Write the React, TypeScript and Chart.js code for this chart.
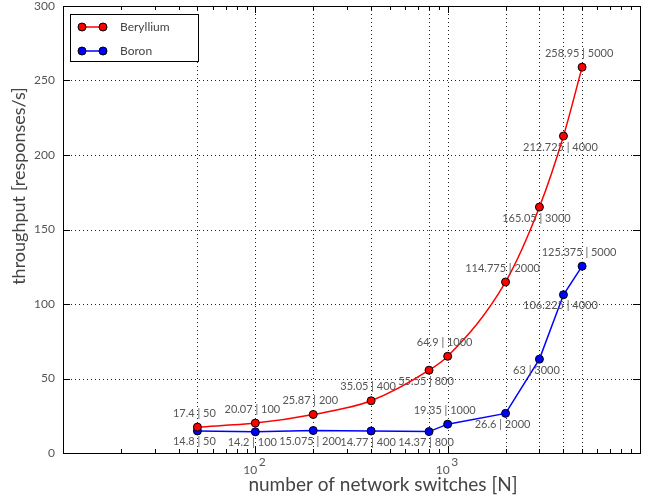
import React, { useEffect, useRef } from "react";
import { Chart, registerables } from "chart.js";

Chart.register(...registerables);

const xValues = [50, 100, 200, 400, 800, 1000, 2000, 3000, 4000, 5000];
const berylliumValues = [17.4, 20.07, 25.87, 35.05, 55.55, 64.9, 114.775, 165.05, 212.725, 258.95];
const boronValues = [14.8, 14.2, 15.075, 14.77, 14.37, 19.35, 26.6, 63, 106.225, 125.375];
const berylliumLabelSide = ["above", "above", "above", "above", "below", "above", "above", "below", "below", "above"];
const boronLabelSide = ["below", "below", "below", "below", "below", "above", "below", "below", "below", "above"];
const yTicks = [0, 50, 100, 150, 200, 250, 300];
const xMajorTicks = [100, 1000];
const xMajorExponents = ["2", "3"];
const seriesNames = ["Beryllium", "Boron"];
const seriesColors = ["#ff0000", "#0000ff"];

const FONT = "Lato, 'Open Sans', sans-serif";

const overlay = {
  id: "overlay",
  beforeDatasetsDraw(chart: any) {
    const { ctx, chartArea: a, scales } = chart;
    const xs = scales.x, ys = scales.y;
    ctx.save();
    ctx.strokeStyle = "#222";
    ctx.lineWidth = 1;
    ctx.setLineDash([1, 3]);
    xValues.forEach((v) => {
      const px = Math.round(xs.getPixelForValue(v)) + 0.5;
      ctx.beginPath();
      ctx.moveTo(px, a.top);
      ctx.lineTo(px, a.bottom);
      ctx.stroke();
    });
    yTicks.forEach((v) => {
      if (v === 0 || v === 300) return;
      const py = Math.round(ys.getPixelForValue(v)) + 0.5;
      ctx.beginPath();
      ctx.moveTo(a.left, py);
      ctx.lineTo(a.right, py);
      ctx.stroke();
    });
    ctx.restore();
  },
  afterDatasetsDraw(chart: any) {
    const { ctx, chartArea: a, scales } = chart;
    const xs = scales.x, ys = scales.y;
    ctx.save();
    // frame
    ctx.strokeStyle = "#000";
    ctx.lineWidth = 1;
    ctx.strokeRect(Math.round(a.left) + 0.5, Math.round(a.top) + 0.5, Math.round(a.right - a.left), Math.round(a.bottom - a.top));
    // x ticks
    for (let d = 10; d < 10000; d *= 10) {
      for (let m = 1; m < 10; m++) {
        const v = d * m;
        if (v <= 10) continue;
        const px = Math.round(xs.getPixelForValue(v)) + 0.5;
        const len = m === 1 ? 7 : 4;
        ctx.beginPath();
        ctx.moveTo(px, a.bottom);
        ctx.lineTo(px, a.bottom - len);
        ctx.moveTo(px, a.top);
        ctx.lineTo(px, a.top + len);
        ctx.stroke();
      }
    }
    // y ticks
    yTicks.forEach((v) => {
      const py = Math.round(ys.getPixelForValue(v)) + 0.5;
      ctx.beginPath();
      ctx.moveTo(a.left, py);
      ctx.lineTo(a.left + 7, py);
      ctx.moveTo(a.right, py);
      ctx.lineTo(a.right - 7, py);
      ctx.stroke();
    });
    // y tick labels
    ctx.fillStyle = "#555";
    ctx.font = `12px ${FONT}`;
    ctx.textAlign = "right";
    ctx.textBaseline = "middle";
    yTicks.forEach((v) => {
      ctx.fillText(String(v), a.left - 8, ys.getPixelForValue(v));
    });
    // x tick labels
    xMajorTicks.forEach((v, i) => {
      const px = xs.getPixelForValue(v);
      ctx.textAlign = "center";
      ctx.font = `12px ${FONT}`;
      ctx.fillText("10", px - 5, a.bottom + 17);
      ctx.fillText(xMajorExponents[i], px + 7, a.bottom + 9);
    });
    // axis titles
    ctx.fillStyle = "#444";
    ctx.font = `19px ${FONT}`;
    ctx.textAlign = "center";
    ctx.textBaseline = "middle";
    ctx.fillText("number of network switches [N]", 383, a.bottom + 32);
    ctx.save();
    ctx.font = `18px ${FONT}`;
    ctx.translate(19, 186);
    ctx.rotate(-Math.PI / 2);
    ctx.fillText("throughput [responses/s]", 0, 0);
    ctx.restore();
    // data labels
    ctx.fillStyle = "#555";
    ctx.font = `11px ${FONT}`;
    const sides = [berylliumLabelSide, boronLabelSide];
    const vals = [berylliumValues, boronValues];
    vals.forEach((arr, si) => {
      arr.forEach((y, i) => {
        const px = xs.getPixelForValue(xValues[i]);
        const py = ys.getPixelForValue(y);
        const above = sides[si][i] === "above";
        ctx.textAlign = "center";
        ctx.textBaseline = "middle";
        ctx.fillText(`${y} | ${xValues[i]}`, px - 3, above ? py - 14 : py + 11);
      });
    });
    // legend
    const lx = 70, ly = 14, lw = 128, lh = 47;
    ctx.fillStyle = "#fff";
    ctx.fillRect(lx, ly, lw, lh);
    ctx.strokeStyle = "#000";
    ctx.lineWidth = 1;
    ctx.strokeRect(lx + 0.5, ly + 0.5, lw, lh);
    seriesNames.forEach((name, i) => {
      const y = ly + 13 + i * 24;
      ctx.strokeStyle = seriesColors[i];
      ctx.lineWidth = 1.5;
      ctx.beginPath();
      ctx.moveTo(82, y);
      ctx.lineTo(103, y);
      ctx.stroke();
      [82, 103].forEach((cx) => {
        ctx.beginPath();
        ctx.arc(cx, y, 4, 0, Math.PI * 2);
        ctx.fillStyle = seriesColors[i];
        ctx.fill();
        ctx.strokeStyle = "#000";
        ctx.lineWidth = 1;
        ctx.stroke();
      });
      ctx.fillStyle = "#444";
      ctx.font = `12px ${FONT}`;
      ctx.textAlign = "left";
      ctx.textBaseline = "middle";
      ctx.fillText(name, 120, y);
    });
    ctx.restore();
  },
};

export default function App() {
  const ref = useRef<HTMLCanvasElement>(null);
  useEffect(() => {
    if (!ref.current) return;
    const chart = new Chart(ref.current, {
      type: "line",
      data: {
        datasets: [
          {
            label: seriesNames[0],
            data: xValues.map((x, i) => ({ x, y: berylliumValues[i] })),
            borderColor: seriesColors[0],
            backgroundColor: seriesColors[0],
            pointBackgroundColor: seriesColors[0],
            pointBorderColor: "#000",
            pointBorderWidth: 1,
            pointRadius: 4,
            borderWidth: 1.5,
            cubicInterpolationMode: "monotone",
          },
          {
            label: seriesNames[1],
            data: xValues.map((x, i) => ({ x, y: boronValues[i] })),
            borderColor: seriesColors[1],
            backgroundColor: seriesColors[1],
            pointBackgroundColor: seriesColors[1],
            pointBorderColor: "#000",
            pointBorderWidth: 1,
            pointRadius: 4,
            borderWidth: 1.5,
            tension: 0,
          },
        ],
      },
      options: {
        responsive: false,
        animation: false,
        layout: { padding: { left: 63, right: 3, top: 6, bottom: 44 } },
        plugins: { legend: { display: false }, tooltip: { enabled: false } },
        scales: {
          x: { type: "logarithmic", min: 10, max: 10000, display: false },
          y: { type: "linear", min: 0, max: 300, display: false },
        },
      },
      plugins: [overlay],
    });
    return () => chart.destroy();
  }, []);
  return (
    <div style={{ position: "absolute", left: 0, top: 0, width: 645, height: 497, background: "#fff" }}>
      <canvas ref={ref} width={645} height={497} style={{ display: "block" }} />
    </div>
  );
}
